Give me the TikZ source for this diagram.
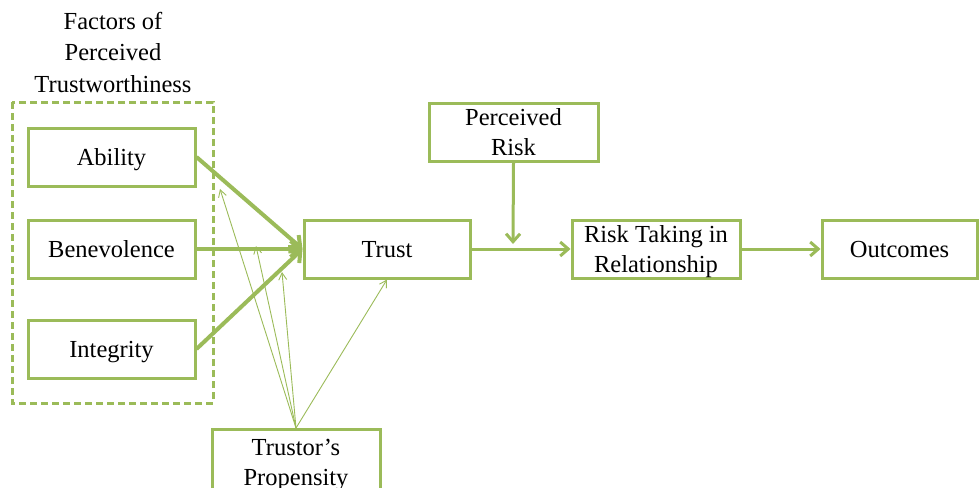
\documentclass[tikz,border=0pt]{standalone}
\usepackage{fontspec}
\setmainfont{Liberation Serif}
\usetikzlibrary{arrows.meta}
\definecolor{olivegr}{HTML}{9BBB59}
\begin{document}
\begin{tikzpicture}[x=1pt,y=-1pt,
  box/.style={draw=olivegr, line width=3pt, fill=white, inner sep=0pt, align=center,
    font=\fontsize{24.5}{30}\selectfont, minimum height=58pt, text depth=0pt},
  bigarrow/.style={draw=olivegr, line width=4pt, -{Straight Barb[length=9pt,width=16pt,line width=4pt]}},
  midarrow/.style={draw=olivegr, line width=3pt, -{Straight Barb[length=8pt,width=14pt,line width=3pt]}},
  thinarrow/.style={draw=olivegr, line width=0.9pt, -{Straight Barb[length=7pt,width=8pt,line width=0.9pt]}},
  dashbox/.style={draw=olivegr, line width=3pt, dash pattern=on 7pt off 4pt}]
\useasboundingbox (0,0) rectangle (979,487);
\clip (0,0) rectangle (979,487);

\draw[dashbox] (12,102) rectangle (213,403);
\node[font=\fontsize{24.5}{31.5}\selectfont, align=center] (title) at (113,52) {Factors of\\Perceived\\Trustworthiness};

\node[box, minimum width=167pt] (ab) at (111.5,157) {Ability};
\node[box, minimum width=167pt] (be) at (111.5,249) {Benevolence};
\node[box, minimum width=167pt] (in) at (111.5,349) {Integrity};
\node[box, minimum width=166pt] (tr) at (387,249) {Trust};
\node[box, minimum width=169pt] (pr) at (513.5,132) {Perceived\\Risk};
\node[box, minimum width=168pt] (rt) at (656,249) {Risk Taking in\\Relationship};
\node[box, minimum width=155pt] (oc) at (899.5,249) {Outcomes};
\node[box, minimum width=168pt, minimum height=66pt, anchor=north] (tp) at (296,428) {Trustor's\\Propensity};

\coordinate (m1) at (220,189);
\coordinate (m2) at (256,246);
\coordinate (m3) at (282,272);
\coordinate (pm) at (513,244);

\draw[bigarrow] (ab.east) -- (tr.west);
\draw[bigarrow] (be.east) -- (tr.west);
\draw[bigarrow] (in.east) -- (tr.west);

\draw[midarrow] (tr.east) -- (rt.west);
\draw[midarrow] (rt.east) -- (oc.west);
\draw[midarrow] (pr.south) -- (pm);

\draw[thinarrow] (tp.north) -- (m1);
\draw[thinarrow] (tp.north) -- (m2);
\draw[thinarrow] (tp.north) -- (m3);
\draw[thinarrow] (tp.north) -- (tr.south);
\end{tikzpicture}
\end{document}
